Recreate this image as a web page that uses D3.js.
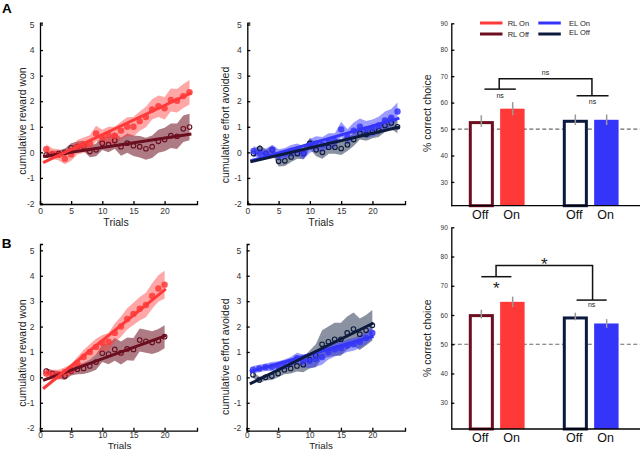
<!DOCTYPE html>
<html>
<head>
<meta charset="utf-8">
<script src="https://cdn.jsdelivr.net/npm/d3@7"></script>
<style>
body { margin: 0; background: #fff; }
svg { display: block; }
</style>
</head>
<body>
<svg id="chart" width="640" height="451"></svg>
<script>
const svg = d3.select('#chart')
const FONT = 'Arial, "Liberation Sans", sans-serif'

// trial numbers
const trialsA = d3.range(1, 25)
const trialsB = d3.range(1, 21)
const xTicks = [0, 5, 10, 15, 20]
const yTicks = [-2, -1, 0, 1, 2, 3, 4, 5]

// panel A, cumulative means and sem per trial
const rlOnA = [0.12, -0.05, -0.1, -0.25, -0.08, 0.2, 0.28, 0.35, 0.74, 0.58, 0.68, 0.65, 0.85, 1.0, 1.0, 1.22, 1.38, 1.68, 1.8, 1.72, 2.05, 2.02, 2.2, 2.35]
const rlOnSemA = [0.2, 0.2, 0.22, 0.22, 0.25, 0.28, 0.3, 0.32, 0.3, 0.3, 0.32, 0.35, 0.35, 0.37, 0.38, 0.38, 0.4, 0.4, 0.42, 0.44, 0.45, 0.46, 0.47, 0.48]
const rlOffA = [-0.1, -0.08, -0.05, 0.0, 0.18, 0.22, 0.25, 0.03, 0.1, 0.36, 0.3, 0.46, 0.22, 0.36, 0.26, 0.22, 0.14, 0.22, 0.43, 0.5, 0.65, 0.63, 0.92, 0.99]
const rlOffSemA = [0.12, 0.12, 0.13, 0.15, 0.18, 0.2, 0.2, 0.22, 0.25, 0.27, 0.3, 0.32, 0.35, 0.38, 0.4, 0.42, 0.43, 0.44, 0.45, 0.46, 0.48, 0.5, 0.52, 0.52]
const elOnA = [0.05, -0.05, -0.05, 0.1, -0.1, -0.05, 0.05, 0.1, -0.02, 0.25, 0.35, 0.3, 0.45, 0.45, 0.9, 0.6, 0.85, 1.0, 0.9, 0.95, 1.05, 1.25, 1.35, 1.6]
const elOnSemA = [0.2, 0.2, 0.2, 0.2, 0.22, 0.22, 0.24, 0.25, 0.25, 0.27, 0.28, 0.3, 0.3, 0.3, 0.3, 0.3, 0.32, 0.32, 0.33, 0.33, 0.34, 0.35, 0.35, 0.35]
const elOffA = [-0.05, 0.15, -0.05, 0.1, -0.35, -0.33, -0.18, -0.05, -0.05, 0.35, 0.1, 0.0, 0.2, 0.2, 0.15, 0.3, 0.5, 0.75, 0.7, 0.8, 0.85, 1.05, 1.15, 1.0]
const elOffSemA = [0.15, 0.15, 0.15, 0.15, 0.2, 0.2, 0.2, 0.2, 0.22, 0.22, 0.25, 0.25, 0.25, 0.25, 0.25, 0.25, 0.25, 0.25, 0.25, 0.25, 0.25, 0.25, 0.25, 0.25]

// panel B
const rlOnB = [0.15, 0.1, 0.1, 0.2, 0.3, 0.55, 0.8, 1.0, 1.2, 1.35, 1.4, 1.75, 2.0, 2.3, 2.5, 2.7, 2.85, 3.2, 3.5, 3.65]
const rlOnSemB = [0.2, 0.2, 0.2, 0.2, 0.22, 0.25, 0.28, 0.3, 0.32, 0.32, 0.35, 0.37, 0.4, 0.42, 0.44, 0.46, 0.48, 0.5, 0.52, 0.55]
const rlOffB = [0.25, 0.15, 0.1, 0.05, 0.25, 0.32, 0.35, 0.45, 0.6, 0.95, 0.92, 1.1, 0.96, 1.12, 1.1, 1.47, 1.42, 1.37, 1.45, 1.6]
const rlOffSemB = [0.12, 0.12, 0.15, 0.15, 0.18, 0.2, 0.22, 0.25, 0.3, 0.35, 0.4, 0.45, 0.45, 0.45, 0.45, 0.45, 0.45, 0.45, 0.45, 0.45]
const elOnB = [0.3, 0.35, 0.4, 0.42, 0.45, 0.5, 0.6, 0.75, 0.65, 0.65, 0.72, 0.8, 1.0, 1.1, 1.15, 1.25, 1.3, 1.4, 1.55, 1.75]
const elOnSemB = [0.15, 0.15, 0.15, 0.18, 0.18, 0.2, 0.2, 0.22, 0.25, 0.28, 0.3, 0.3, 0.3, 0.28, 0.25, 0.25, 0.25, 0.25, 0.25, 0.25]
const elOffB = [0.1, -0.1, 0.0, 0.05, 0.15, 0.3, 0.35, 0.45, 0.5, 0.7, 0.85, 1.3, 1.4, 1.5, 1.5, 1.75, 1.9, 1.7, 1.85, 2.05]
const elOffSemB = [0.12, 0.12, 0.12, 0.15, 0.15, 0.18, 0.2, 0.22, 0.3, 0.35, 0.45, 0.55, 0.6, 0.65, 0.65, 0.65, 0.65, 0.62, 0.6, 0.6]

// linear fits: value at start and end of fitSpan
const fitSpanA = [0.5, 24.3]
const fitSpanB = [0.5, 20.2]
const rlOnFitA = [-0.4, 2.33]
const rlOffFitA = [-0.16, 0.72]
const elOnFitA = [-0.34, 1.34]
const elOffFitA = [-0.37, 0.99]
const rlOnFitB = [-0.45, 3.48]
const rlOffFitB = [-0.12, 1.64]
const elOnFitB = [0.22, 1.62]
const elOffFitB = [-0.26, 2.14]

// bar charts
const barLabels = ['Off', 'On', 'Off', 'On']
const barKeys = ['rlOff', 'rlOn', 'elOff', 'elOn']
const barPos = [1, 2, 4, 5]
const barA = [53, 57.7, 53.5, 53.5]
const barErrA = [2.2, 2.5, 2, 2]
const barB = [60.3, 64.5, 59.5, 57.1]
const barErrB = [1.5, 1.8, 1.3, 1.5]
const barTicks = [30, 40, 50, 60, 70, 80, 90]

const legendItems = [
	{ key: 'rlOn', label: 'RL On' },
	{ key: 'rlOff', label: 'RL Off' },
	{ key: 'elOn', label: 'EL On' },
	{ key: 'elOff', label: 'EL Off' }
]

const styles = {
	rlOn: { line: '#ff3838', band: '#ff3a3a', bandOp: 0.45, filled: true },
	rlOff: { line: '#6b0e1f', band: '#6b0e1f', bandOp: 0.55, filled: false },
	elOn: { line: '#3535fa', band: '#3a3aff', bandOp: 0.5, filled: true },
	elOff: { line: '#0c1a3d', band: '#2a3752', bandOp: 0.55, filled: false }
}

const styleAxis = sel => {
	sel.attr('font-family', FONT)
	sel.selectAll('path, line').attr('stroke', '#000').attr('stroke-width', 1.3)
	sel.selectAll('text').attr('fill', '#333')
}

const drawTrials = p => {
	const x = d3.scaleLinear().domain([0, 25.2]).range([p.left, p.right])
	const y = d3.scaleLinear().domain(p.yDomain).range([p.bottom, p.top])
	const g = svg.append('g')

	const band = d3.area()
		.x(d => x(d.t))
		.y0(d => y(d.m - d.s))
		.y1(d => y(d.m + d.s))
	const rows = s => p.trials.map((t, i) => ({ t: t, m: s.mean[i], s: s.sem[i] }))

	// bands
	p.series.forEach(s => {
		g.append('path').datum(rows(s))
			.attr('d', band)
			.attr('fill', styles[s.key].band)
			.attr('fill-opacity', styles[s.key].bandOp)
	})

	// points
	p.series.forEach(s => {
		const st = styles[s.key]
		g.append('g').selectAll('circle')
			.data(rows(s))
			.enter()
			.append('circle')
			.attr('cx', d => x(d.t))
			.attr('cy', d => y(d.m))
			.attr('r', st.filled ? 3.2 : 2.3)
			.attr('fill', st.filled ? st.line : 'none')
			.attr('fill-opacity', 0.85)
			.attr('stroke', st.filled ? 'none' : st.line)
			.attr('stroke-width', 1.1)
	})

	// fit lines
	const line = d3.line().x(d => x(d[0])).y(d => y(d[1]))
	p.lineOrder.forEach(k => {
		const s = p.series.find(d => d.key === k)
		g.append('path')
			.datum([[p.span[0], s.fit[0]], [p.span[1], s.fit[1]]])
			.attr('d', line)
			.attr('stroke', styles[k].line)
			.attr('stroke-width', 3)
			.attr('fill', 'none')
	})

	// axes
	g.append('g')
		.attr('transform', `translate(0,${p.bottom})`)
		.call(d3.axisBottom(x).tickValues(xTicks).tickFormat(d => d)
			.tickSize(-3).tickSizeOuter(-3).tickPadding(p.tickPad))
		.call(styleAxis)
		.selectAll('text').attr('font-size', p.tickFont)

	g.append('g')
		.attr('transform', `translate(${p.left},0)`)
		.call(d3.axisLeft(y).tickValues(yTicks).tickFormat(d => d)
			.tickSize(-3).tickSizeOuter(-3).tickPadding(5.5))
		.call(styleAxis)
		.selectAll('text').attr('font-size', 8.5)

	g.append('text')
		.attr('transform', `translate(${p.ylabelX},${p.ylabelY}) rotate(-90)`)
		.attr('text-anchor', 'middle')
		.attr('dominant-baseline', 'central')
		.attr('font-family', FONT)
		.attr('font-size', 10.5)
		.attr('fill', '#222')
		.text(p.ylabel)

	g.append('text')
		.attr('x', p.trialsX)
		.attr('y', p.trialsY)
		.attr('text-anchor', 'middle')
		.attr('font-family', FONT)
		.attr('font-size', p.trialsSize)
		.attr('fill', '#222')
		.text('Trials')
}

const drawBars = p => {
	const x = d3.scaleLinear().domain([0, 6]).range([450, 638])
	const y = d3.scaleLinear().domain([21, 90]).range([p.bottom, p.top])
	const g = svg.append('g')
	const bw = x(0.8) - x(0)

	// chance line
	g.append('line')
		.attr('x1', 451.3).attr('x2', 640)
		.attr('y1', y(50)).attr('y2', y(50))
		.attr('stroke', '#6a6a6a')
		.attr('stroke-width', 1.2)
		.attr('stroke-dasharray', '4,2.5')

	const rows = barPos.map((pos, i) => ({ pos: pos, v: p.values[i], e: p.errors[i], key: barKeys[i] }))

	g.selectAll('rect')
		.data(rows)
		.enter()
		.append('rect')
		.attr('x', d => styles[d.key].filled ? x(d.pos) - bw / 2 : x(d.pos) - bw / 2 + 1.5)
		.attr('width', d => styles[d.key].filled ? bw - 0.6 : bw - 3)
		.attr('y', d => styles[d.key].filled ? y(d.v) : y(d.v) + 1.5)
		.attr('height', d => styles[d.key].filled ? y(21) - y(d.v) : y(21) - y(d.v) - 1.5)
		.attr('fill', d => styles[d.key].filled ? styles[d.key].line : '#fff')
		.attr('stroke', d => styles[d.key].filled ? 'none' : styles[d.key].line)
		.attr('stroke-width', 3)

	g.selectAll('line.err')
		.data(rows)
		.enter()
		.append('line')
		.attr('class', 'err')
		.attr('x1', d => x(d.pos)).attr('x2', d => x(d.pos))
		.attr('y1', d => y(d.v - d.e)).attr('y2', d => y(d.v + d.e))
		.attr('stroke', '#999')
		.attr('stroke-width', 1.5)

	// axes
	g.append('g')
		.attr('transform', 'translate(451.3,0)')
		.call(d3.axisLeft(y).tickValues(barTicks)
			.tickSize(-3).tickSizeOuter(0).tickPadding(3.5))
		.call(styleAxis)
		.selectAll('text').attr('font-size', 6.5)

	g.append('line')
		.attr('x1', 451.3).attr('x2', 640)
		.attr('y1', p.bottom).attr('y2', p.bottom)
		.attr('stroke', '#000').attr('stroke-width', 1.3)

	g.selectAll('text.cat')
		.data(rows)
		.enter()
		.append('text')
		.attr('class', 'cat')
		.attr('x', d => x(d.pos) - 1)
		.attr('y', p.bottom + 13)
		.attr('text-anchor', 'middle')
		.attr('font-family', FONT)
		.attr('font-size', 12.5)
		.attr('fill', '#111')
		.text((d, i) => barLabels[i])

	g.append('text')
		.attr('transform', `translate(426.7,${p.ylabelY}) rotate(-90)`)
		.attr('text-anchor', 'middle')
		.attr('dominant-baseline', 'central')
		.attr('font-family', FONT)
		.attr('font-size', 10.5)
		.attr('fill', '#222')
		.text('% correct choice')

	// significance brackets
	const b = p.brackets
	const hline = (x0, x1, v) => g.append('line')
		.attr('x1', x(x0)).attr('x2', x(x1))
		.attr('y1', y(v)).attr('y2', y(v))
		.attr('stroke', '#111').attr('stroke-width', 1.5)
	hline(b.left[0], b.left[1], b.left[2])
	hline(b.right[0], b.right[1], b.right[2])
	g.append('path')
		.attr('d', `M${x(b.top[0])},${y(b.left[2])}V${y(b.top[2])}H${x(b.top[1])}V${y(b.right[2])}`)
		.attr('fill', 'none').attr('stroke', '#111').attr('stroke-width', 1.5)

	const mark = (cx, cy, t) => g.append('text')
		.attr('x', cx).attr('y', cy)
		.attr('text-anchor', 'middle')
		.attr('font-family', FONT)
		.attr('font-size', t === '*' ? 17 : 7)
		.attr('fill', '#222')
		.text(t)
	const ms = t => t === '*' ? 17.5 : 8.5
	mark(x((b.left[0] + b.left[1]) / 2), y(b.left[2]) + ms(b.left[3]), b.left[3])
	mark(x((b.right[0] + b.right[1]) / 2), y(b.right[2]) + ms(b.right[3]) - (b.right[3] === 'ns' && b.top[3] === '*' ? 1.5 : 0), b.right[3])
	mark(x((b.top[0] + b.top[1]) / 2), y(b.top[2]) + (b.top[3] === '*' ? 4.5 : -4), b.top[3])
}

drawTrials({
	left: 40, right: 197, top: 22.7, bottom: 204, yDomain: [-2.02, 5.07],
	trials: trialsA, span: fitSpanA,
	series: [
		{ key: 'rlOff', mean: rlOffA, sem: rlOffSemA, fit: rlOffFitA },
		{ key: 'rlOn', mean: rlOnA, sem: rlOnSemA, fit: rlOnFitA }
	],
	lineOrder: ['rlOff', 'rlOn'],
	ylabel: 'cumulative reward won', ylabelX: 21.7, ylabelY: 121,
	trialsX: 116, trialsY: 225.5, trialsSize: 10.5, tickPad: 4, tickFont: 8.5
})

drawTrials({
	left: 247.3, right: 405, top: 22.7, bottom: 204, yDomain: [-2.02, 5.07],
	trials: trialsA, span: fitSpanA,
	series: [
		{ key: 'elOff', mean: elOffA, sem: elOffSemA, fit: elOffFitA },
		{ key: 'elOn', mean: elOnA, sem: elOnSemA, fit: elOnFitA }
	],
	lineOrder: ['elOn', 'elOff'],
	ylabel: 'cumulative effort avoided', ylabelX: 225, ylabelY: 125,
	trialsX: 321, trialsY: 225.5, trialsSize: 10.5, tickPad: 4, tickFont: 8.5
})

drawTrials({
	left: 40, right: 197, top: 244, bottom: 430.7, yDomain: [-2.1, 5.25],
	trials: trialsB, span: fitSpanB,
	series: [
		{ key: 'rlOff', mean: rlOffB, sem: rlOffSemB, fit: rlOffFitB },
		{ key: 'rlOn', mean: rlOnB, sem: rlOnSemB, fit: rlOnFitB }
	],
	lineOrder: ['rlOff', 'rlOn'],
	ylabel: 'cumulative reward won', ylabelX: 22, ylabelY: 353,
	trialsX: 119.5, trialsY: 448.6, trialsSize: 9.8, tickPad: 1.4, tickFont: 8.2
})

drawTrials({
	left: 246.7, right: 405, top: 244, bottom: 430.7, yDomain: [-2.1, 5.25],
	trials: trialsB, span: fitSpanB,
	series: [
		{ key: 'elOff', mean: elOffB, sem: elOffSemB, fit: elOffFitB },
		{ key: 'elOn', mean: elOnB, sem: elOnSemB, fit: elOnFitB }
	],
	lineOrder: ['elOn', 'elOff'],
	ylabel: 'cumulative effort avoided', ylabelX: 225, ylabelY: 356.7,
	trialsX: 321, trialsY: 448.6, trialsSize: 9.8, tickPad: 1.4, tickFont: 8.2
})

drawBars({
	top: 23.3, bottom: 205.7, values: barA, errors: barErrA, ylabelY: 113.3,
	brackets: {
		left: [1.1, 2.1, 65.1, 'ns'],
		right: [4.04, 5.06, 62.6, 'ns'],
		top: [1.57, 4.53, 69.0, 'ns']
	}
})

drawBars({
	top: 227.3, bottom: 429, values: barB, errors: barErrB, ylabelY: 338.3,
	brackets: {
		left: [1.0, 1.96, 73.1, '*'],
		right: [4.04, 5.0, 65.1, 'ns'],
		top: [1.47, 4.55, 76.9, '*']
	}
})

// legend
const legend = svg.append('g')
legendItems.forEach((d, i) => {
	const lx = i < 2 ? 480 : 538.3
	const ly = i % 2 === 0 ? 23 : 34
	legend.append('line')
		.attr('x1', lx).attr('x2', lx + 22.5)
		.attr('y1', ly).attr('y2', ly)
		.attr('stroke', styles[d.key].line)
		.attr('stroke-width', 3)
	legend.append('text')
		.attr('x', lx + (i < 2 ? 27.7 : 30.7))
		.attr('y', ly - (i === 3 ? 2 : 0))
		.attr('dominant-baseline', 'central')
		.attr('font-family', FONT)
		.attr('font-size', 7.5)
		.attr('fill', '#222')
		.text(d.label)
})

// panel letters
svg.append('text').attr('x', 2).attr('y', 13.3)
	.attr('font-family', FONT).attr('font-weight', 'bold').attr('font-size', 13.5).text('A')
svg.append('text').attr('x', 1.7).attr('y', 248.3)
	.attr('font-family', FONT).attr('font-weight', 'bold').attr('font-size', 13.5).text('B')
</script>
</body>
</html>
